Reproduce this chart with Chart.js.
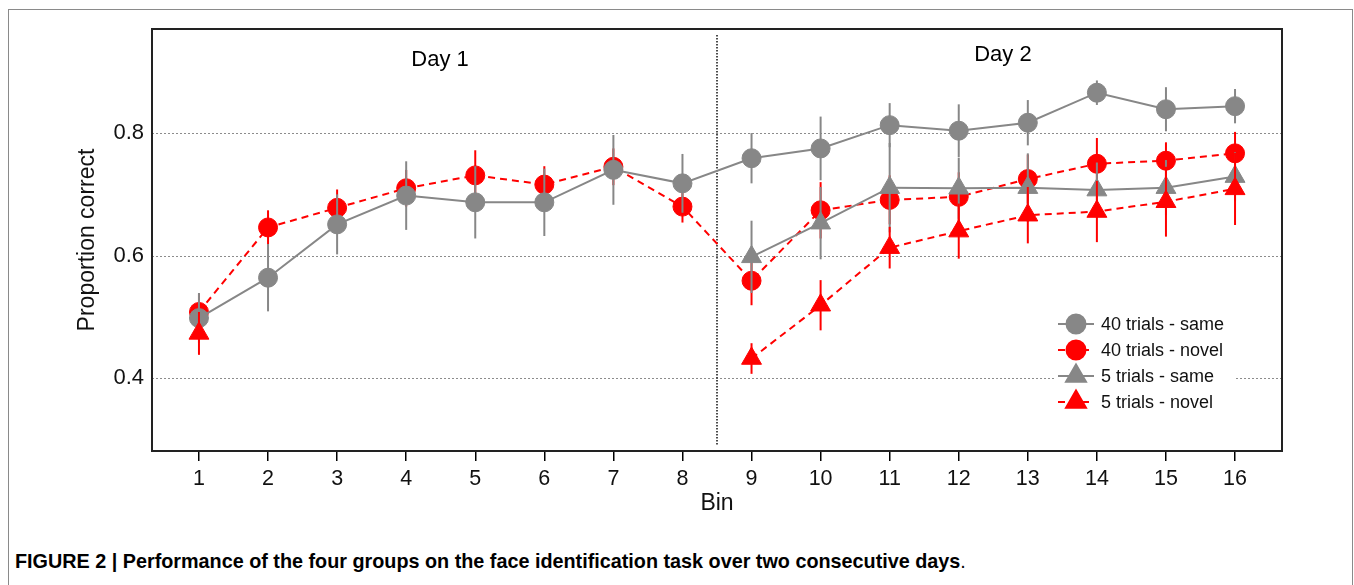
<!DOCTYPE html>
<html>
<head>
<meta charset="utf-8">
<script src="https://cdn.jsdelivr.net/npm/chart.js@4.4.0/dist/chart.umd.min.js"></script>
<style>
body{margin:0;background:#fff;overflow:hidden;width:1354px;height:585px;position:relative;font-family:"Liberation Sans",Arial,sans-serif}
#frame{position:absolute;left:8px;top:9px;width:1343px;height:620px;border:1.5px solid #8a8a8a;border-bottom:none}
#wrap{position:absolute;left:0;top:0;width:1354px;height:530px}
#caption{position:absolute;left:15px;top:550px;font-size:19.8px;color:#000;font-family:"Liberation Sans Narrow","Liberation Sans",Arial,sans-serif;font-stretch:condensed;white-space:nowrap}
</style>
</head>
<body>
<div id="frame"></div>
<div id="wrap"><canvas id="grafico" width="1354" height="530"></canvas></div>
<div id="caption"><b>FIGURE 2 | Performance of the four groups on the face identification task over two consecutive days</b>.</div>
<script>
// bins and values
let bins = [1,2,3,4,5,6,7,8,9,10,11,12,13,14,15,16]
let yTicks = [0.4,0.6,0.8]

let same40 = [0.498,0.564,0.651,0.698,0.687,0.687,0.740,0.718,0.759,0.775,0.813,0.804,0.817,0.866,0.839,0.844]
let same40Err = [0.041,0.055,0.049,0.056,0.059,0.055,0.057,0.048,0.041,0.052,0.036,0.043,0.037,0.020,0.036,0.028]

let novel40 = [0.508,0.646,0.678,0.710,0.731,0.716,0.745,0.680,0.559,0.674,0.691,0.696,0.725,0.750,0.755,0.767]
let novel40Err = [0.030,0.028,0.030,0.030,0.041,0.030,0.030,0.026,0.040,0.046,0.040,0.040,0.040,0.042,0.030,0.035]

let same5 = [null,null,null,null,null,null,null,null,0.598,0.653,0.711,0.710,0.711,0.707,0.711,0.729]
let same5Err = [null,null,null,null,null,null,null,null,0.059,0.059,0.073,0.050,0.056,0.045,0.045,0.040]

let novel5 = [0.473,null,null,null,null,null,null,null,0.432,0.519,0.613,0.640,0.666,0.672,0.688,0.709]
let novel5Err = [0.035,null,null,null,null,null,null,null,0.025,0.041,0.034,0.045,0.046,0.050,0.057,0.059]

let nomes = ["40 trials - same","40 trials - novel","5 trials - same","5 trials - novel"]

let cinza = "#878787"
let vermelho = "#ff0000"
let fonte = "'Liberation Sans', Arial, sans-serif"

function pontos(vals){
return bins.map((b,i)=>({x:b,y:vals[i]}))
}

let erros = [same40Err,novel40Err,same5Err,novel5Err]
let valores = [same40,novel40,same5,novel5]

// error bars drawn just before each dataset
let barrasErro = {
id:"barrasErro",
beforeDatasetDraw(chart,args){
let i = args.index
let ds = chart.data.datasets[i]
let xs = chart.scales.x
let ys = chart.scales.y
let ctx = chart.ctx
ctx.save()
ctx.strokeStyle = ds.borderColor
ctx.lineWidth = 2
ctx.setLineDash([])
valores[i].forEach((v,j)=>{
if(v==null) return
let e = erros[i][j]
let px = xs.getPixelForValue(bins[j])
ctx.beginPath()
ctx.moveTo(px,ys.getPixelForValue(v-e))
ctx.lineTo(px,ys.getPixelForValue(v+e))
ctx.stroke()
})
ctx.restore()
}
}

// dotted grid, frame, day divider and day labels
let fundo = {
id:"fundo",
beforeDatasetsDraw(chart){
let a = chart.chartArea
let xs = chart.scales.x
let ys = chart.scales.y
let ctx = chart.ctx
ctx.save()
ctx.strokeStyle = "#8c8c8c"
ctx.lineWidth = 1
ctx.setLineDash([2,2])
yTicks.forEach(t=>{
let py = Math.round(ys.getPixelForValue(t))+0.5
ctx.beginPath()
ctx.moveTo(a.left,py)
ctx.lineTo(a.right,py)
ctx.stroke()
})
ctx.strokeStyle = "#111"
ctx.lineWidth = 1.5
ctx.setLineDash([1.5,1.5])
let dx = xs.getPixelForValue(8.5)
ctx.beginPath()
ctx.moveTo(dx,a.top+6)
ctx.lineTo(dx,a.bottom-6)
ctx.stroke()
ctx.setLineDash([])
ctx.lineWidth = 2
ctx.strokeStyle = "#222"
ctx.strokeRect(a.left,a.top,a.right-a.left,a.bottom-a.top)
ctx.fillStyle = "#000"
ctx.font = "22px " + fonte
ctx.textAlign = "center"
ctx.textBaseline = "middle"
ctx.fillText("Day 1",xs.getPixelForValue(4.49),ys.getPixelForValue(0.919))
ctx.fillText("Day 2",xs.getPixelForValue(12.64),ys.getPixelForValue(0.927))
ctx.restore()
}
}

// legend inside the plot, bottom right
let legenda = {
id:"legenda",
afterDraw(chart){
let ctx = chart.ctx
ctx.save()
ctx.fillStyle = "#fff"
ctx.fillRect(1055,310,180,104)
chart.data.datasets.forEach((ds,i)=>{
let y = 324 + i*26
ctx.strokeStyle = ds.borderColor
ctx.lineWidth = 2
ctx.setLineDash(ds.borderDash || [])
ctx.beginPath()
ctx.moveTo(1058,y)
ctx.lineTo(1094,y)
ctx.stroke()
ctx.setLineDash([])
ctx.fillStyle = ds.backgroundColor
Chart.helpers.drawPoint(ctx,{pointStyle:ds.pointStyle,radius:ds.pointRadius,rotation:0,borderWidth:1},1076,y)
ctx.fillStyle = "#111"
ctx.font = "18px " + fonte
ctx.textAlign = "left"
ctx.textBaseline = "middle"
ctx.fillText(nomes[i],1101,y+1)
})
ctx.restore()
}
}

let ctx = document.getElementById("grafico")

new Chart(ctx,{
type:"line",
data:{
datasets:[
{label:nomes[0],data:pontos(same40),borderColor:cinza,backgroundColor:cinza,borderWidth:2,pointStyle:"circle",pointRadius:9.5,pointBorderWidth:1,order:2},
{label:nomes[1],data:pontos(novel40),borderColor:vermelho,backgroundColor:vermelho,borderWidth:2,borderDash:[7,5],pointStyle:"circle",pointRadius:9.5,pointBorderWidth:1,order:4},
{label:nomes[2],data:pontos(same5),borderColor:cinza,backgroundColor:cinza,borderWidth:2,pointStyle:"triangle",pointRadius:11.5,pointBorderWidth:1,order:3},
{label:nomes[3],data:pontos(novel5),borderColor:vermelho,backgroundColor:vermelho,borderWidth:2,borderDash:[7,5],pointStyle:"triangle",pointRadius:11.5,pointBorderWidth:1,order:1}
]
},
options:{
responsive:false,
animation:false,
spanGaps:false,
layout:{padding:{left:68,top:29,right:72,bottom:9}},
plugins:{legend:{display:false},tooltip:{enabled:false}},
elements:{line:{tension:0}},
scales:{
x:{
type:"linear",
min:0.32,
max:16.68,
afterBuildTicks:s=>{s.ticks = bins.map(b=>({value:b}))},
afterFit:s=>{s.height = 70},
grid:{drawOnChartArea:false,drawTicks:true,tickLength:10,color:"#000",lineWidth:1.5},
border:{display:false},
ticks:{color:"#111",font:{size:21.5,family:fonte},padding:5,maxRotation:0},
title:{display:true,text:"Bin",color:"#111",font:{size:23,family:fonte},padding:{top:-2}}
},
y:{
min:0.281,
max:0.97,
afterBuildTicks:s=>{s.ticks = yTicks.map(v=>({value:v}))},
afterFit:s=>{s.width = 84},
grid:{display:false,drawTicks:false},
border:{display:false},
ticks:{color:"#111",font:{size:22,family:fonte},padding:8,callback:v=>v.toFixed(1)},
title:{display:true,text:"Proportion correct",color:"#111",font:{size:23,family:fonte},padding:{top:6,bottom:0}}
}
}
},
plugins:[barrasErro,fundo,legenda]
})
</script>
</body>
</html>
